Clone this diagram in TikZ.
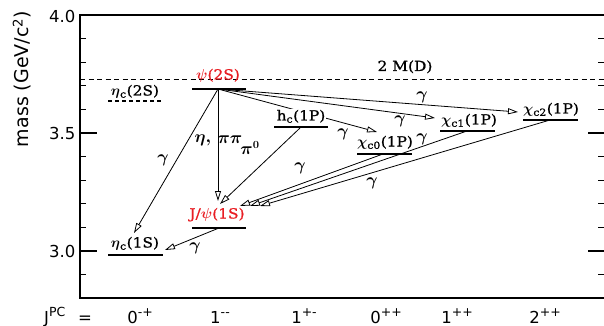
\documentclass[tikz,border=0pt]{standalone}
\usepackage{fontspec}
\usetikzlibrary{arrows.meta}
\newfontfamily\labf{DejaVu Serif}[FakeStretch=1.1, FakeBold=1]
\newfontfamily\axf{DejaVu Sans}
\definecolor{lred}{RGB}{232,30,36}
\newcommand{\gk}[1]{{\boldmath$#1$}}
\newcommand{\qn}[2]{#1\raisebox{0.42em}{\fontsize{12.5}{12.5}\selectfont #2}}
\begin{document}
\begin{tikzpicture}[x=1pt,y=-1pt,
  frame/.style={line width=1.1pt},
  tck/.style={line width=1.1pt},
  lev/.style={line width=1.2pt},
  tr/.style={line width=0.8pt,-{Triangle[open,length=10pt,width=6pt]}},
  lab/.style={font=\labf\fontsize{14}{14}\selectfont, inner sep=0.5pt, anchor=base},
  glab/.style={font=\fontsize{16}{16}\selectfont, inner sep=0pt},
  ax/.style={font=\axf\fontsize{16.5}{16.5}\selectfont, inner sep=0pt},
]
\useasboundingbox (0,0) rectangle (604,326);
% frame
\draw[frame] (604,15) -- (80,15) -- (80,298) -- (604,298);
\foreach \k in {1,2,3,4,6,7,8,9,11}{
  \draw[tck] (80,{15+\k*23.6}) -- ++(6,0);
  \draw[tck] (604,{15+\k*23.6}) -- ++(-6,0);
}
\foreach \k in {0,5,10}{
  \draw[tck] (80,{15+\k*23.6}) -- ++(17,0);
  \draw[tck] (604,{15+\k*23.6}) -- ++(-16,0);
}
\node[ax, anchor=east] (t40) at (75.5,16) {4.0};
\node[ax, anchor=east] (t35) at (75.5,133.5) {3.5};
\node[ax, anchor=east] (t30) at (75.5,251) {3.0};
\node[rotate=90, font=\axf\fontsize{19}{19}\selectfont] (ytitle) at (22,79) {mass (GeV/c\textsuperscript{2})};
% quantum numbers
\node[ax, anchor=base west] (jpc) at (44,323) {\qn{J}{PC}};
\node[ax, anchor=base] (eq) at (85,323) {=};
\node[ax, anchor=base] (q1) at (140,323) {\qn{0}{-+}};
\node[ax, anchor=base] (q2) at (220,323) {\qn{1}{-{}-}};
\node[ax, anchor=base] (q3) at (304,323) {\qn{1}{+-}};
\node[ax, anchor=base] (q4) at (386,323) {\qn{0}{++}};
\node[ax, anchor=base] (q5) at (457,323) {\qn{1}{++}};
\node[ax, anchor=base] (q6) at (545,323) {\qn{2}{++}};
% threshold
\draw[line width=0.8pt, dash pattern=on 5pt off 3.5pt] (80,79) -- (604,79);
% levels
\draw[lev] (192,89) -- (246,89);
\draw[lev, dash pattern=on 4pt off 3pt] (108,101) -- (163,101);
\draw[lev] (274,127) -- (328,127);
\draw[lev] (357,154) -- (412,154);
\draw[lev] (440,131) -- (495,131);
\draw[lev] (523,120) -- (578,120);
\draw[lev] (192,228) -- (246,228);
\draw[lev] (108,255) -- (163,255);
% coordinates
\coordinate (psi) at (218,89);
\coordinate (hc) at (300,128);
\coordinate (chi0) at (383,154);
\coordinate (chi1) at (467,131);
\coordinate (chi2) at (550,120);
\coordinate (jpsi) at (219,228);
\coordinate (tEta1a) at (134,233);
\coordinate (tJv) at (218,201);
\coordinate (tJhc) at (220,204);
\coordinate (tJ0) at (240,206);
\coordinate (tJ1) at (250,206);
\coordinate (tJ2) at (260,206);
\coordinate (tEta1b) at (165,250);
\coordinate (tC0) at (377,132);
\coordinate (tC1) at (435,118);
\coordinate (tC2) at (518,112);
% transitions
\draw[tr] (psi) -- (tEta1a);
\draw[tr] (psi) -- (tJv);
\draw[tr] (hc) -- (tJhc);
\draw[tr] (psi) -- (tC0);
\draw[tr] (psi) -- (tC1);
\draw[tr] (psi) -- (tC2);
\draw[tr] (chi0) -- (tJ0);
\draw[tr] (chi1) -- (tJ1);
\draw[tr] (chi2) -- (tJ2);
\draw[tr] (jpsi) -- (tEta1b);
% level labels
\node[lab, text=lred] (lpsi2) at (218,79.5) {\gk{\psi}(2S)};
\node[lab] (letac2) at (135,95.5) {\gk{\eta}\textsubscript{c}(2S)};
\node[lab, fill=white] (lhc) at (301,120.5) {h\textsubscript{c}(1P)};
\node[lab] (lchi0) at (385,146.5) {\gk{\chi}\textsubscript{c0}(1P)};
\node[lab] (lchi1) at (469,124.5) {\gk{\chi}\textsubscript{c1}(1P)};
\node[lab] (lchi2) at (551,113.5) {\gk{\chi}\textsubscript{c2}(1P)};
\node[lab, text=lred] (ljpsi) at (217,218.5) {J/\gk{\psi}(1S)};
\node[lab] (letac1) at (135,247.5) {\gk{\eta}\textsubscript{c}(1S)};
\node[lab] (l2md) at (405,71) {2 M(D)};
% transition labels
\node[glab] (g1) at (163,160) {\gk{\gamma}};
\node[glab] (leta) at (203,140) {\gk{\eta,}};
\node[glab] (lpipi) at (230,140) {\gk{\pi\pi}};
\node[glab] (lpi0) at (250,148) {\gk{\pi^0}};
\node[glab] (g2) at (343,134) {\gk{\gamma}};
\node[glab] (g3) at (400,121) {\gk{\gamma}};
\node[glab] (g4) at (422,97) {\gk{\gamma}};
\node[glab] (g5) at (300,168) {\gk{\gamma}};
\node[glab] (g6) at (422,139) {\gk{\gamma}};
\node[glab] (g7) at (372,183) {\gk{\gamma}};
\node[glab] (g8) at (195,248) {\gk{\gamma}};
\end{tikzpicture}
\end{document}
